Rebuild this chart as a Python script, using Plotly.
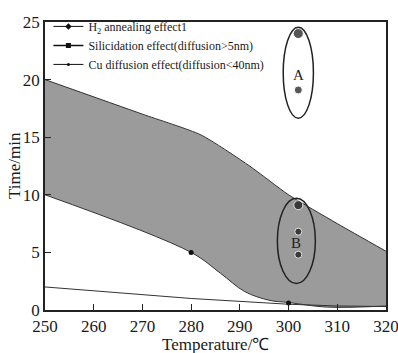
import plotly.graph_objects as go

# Band boundaries
upper_x = [250, 270, 282, 292, 300, 310, 320]
upper_y = [20.0, 17.0, 15.2, 12.5, 10.0, 7.5, 5.1]
lower_x = [250, 280, 286, 291, 296, 300, 308, 320]
lower_y = [10.0, 5.0, 3.2, 1.6, 0.85, 0.65, 0.25, 0.35]
# Cu diffusion line
cu_x = [250, 280, 300, 310, 320]
cu_y = [2.0, 1.0, 0.5, 0.35, 0.3]
# H2 annealing marker points
h2_x = [280, 300]
h2_y = [5.0, 0.6]
# Experimental dots
a_x = [302, 302]
a_y = [24.0, 19.1]
b_x = [302, 302, 302]
b_y = [9.1, 6.8, 4.8]
# Ellipses: center x, center y, half-width, half-height, label
ell_cx = [302.0, 301.6]
ell_cy = [20.6, 6.0]
ell_rx = [3.1, 3.9]
ell_ry = [3.95, 3.7]
ell_label = ["A", "B"]

x_title = "Temperature/℃"
y_title = "Time/min"

serif = "Liberation Serif"
ink = "#1a1a1a"
fig = go.Figure()

fig.add_trace(go.Scatter(x=lower_x, y=lower_y, mode="lines", line_shape="spline",
                         line=dict(color="#333", width=1), showlegend=False))
fig.add_trace(go.Scatter(x=upper_x, y=upper_y, mode="lines", fill="tonexty",
                         line_shape="spline", line_smoothing=0.6,
                         fillcolor="rgb(155,155,155)",
                         line=dict(color="#333", width=1), showlegend=False))
fig.add_trace(go.Scatter(x=cu_x, y=cu_y, mode="lines",
                         line=dict(color="#333", width=1), showlegend=False))
fig.add_trace(go.Scatter(x=h2_x, y=h2_y, mode="markers",
                         marker=dict(color="#111", size=5), showlegend=False))
fig.add_trace(go.Scatter(x=a_x + b_x, y=a_y + b_y, mode="markers",
                         marker=dict(color="#111", size=[10, 8, 9, 7, 7]),
                         showlegend=False))

# legend entries
fig.add_trace(go.Scatter(x=[None], y=[None], mode="lines+markers",
                         name="H<sub>2</sub> annealing effect1",
                         line=dict(color="#111", width=1),
                         marker=dict(symbol="diamond", size=5, color="#111")))
fig.add_trace(go.Scatter(x=[None], y=[None], mode="lines+markers",
                         name="Silicidation effect(diffusion>5nm)",
                         line=dict(color="#111", width=1.5),
                         marker=dict(symbol="square", size=5, color="#111")))
fig.add_trace(go.Scatter(x=[None], y=[None], mode="lines+markers",
                         name="Cu diffusion effect(diffusion<40nm)",
                         line=dict(color="#111", width=1),
                         marker=dict(symbol="circle", size=3, color="#111")))

shapes = []
annotations = []
for cx, cy, rx, ry, lab in zip(ell_cx, ell_cy, ell_rx, ell_ry, ell_label):
    shapes.append(dict(type="circle", xref="x", yref="y",
                       x0=cx - rx, x1=cx + rx, y0=cy - ry, y1=cy + ry,
                       line=dict(color="#222", width=1.5)))
    annotations.append(dict(x=cx, y=cy - 0.2, text=lab, showarrow=False,
                            font=dict(family=serif, size=15, color="#222")))

annotations.append(dict(x=0.5, y=0, xref="paper", yref="paper", yshift=-34,
                        xanchor="center", yanchor="middle", showarrow=False,
                        text=x_title, font=dict(family=serif, size=17, color=ink)))
annotations.append(dict(x=0, y=0.5, xref="paper", yref="paper", xshift=-31,
                        xanchor="center", yanchor="middle", showarrow=False,
                        textangle=-90,
                        text=y_title, font=dict(family=serif, size=17, color=ink)))

fig.update_layout(
    width=398, height=353,
    margin=dict(l=45, r=12, t=14, b=43),
    plot_bgcolor="white", paper_bgcolor="white",
    font=dict(family=serif, size=17, color=ink),
    shapes=shapes, annotations=annotations,
    legend=dict(x=0.01, y=1.035, xanchor="left", yanchor="top",
                traceorder="normal",
                bgcolor="rgba(0,0,0,0)", font=dict(family=serif, size=12, color=ink),
                itemwidth=30, tracegroupgap=0),
)
fig.update_xaxes(range=[250, 320], dtick=10, tick0=250, showline=True, mirror=True,
                 linecolor="#222", linewidth=1.5, ticks="inside", ticklen=6,
                 tickcolor="#222", showgrid=False, zeroline=False, automargin=False,
                 ticklabeloverflow="allow",
                 tickfont=dict(family=serif, size=17, color=ink))
fig.update_yaxes(range=[0, 25], dtick=5, showline=True, mirror=True,
                 linecolor="#222", linewidth=1.5, ticks="inside", ticklen=6,
                 tickcolor="#222", showgrid=False, zeroline=False, automargin=False,
                 ticklabeloverflow="allow",
                 tickfont=dict(family=serif, size=17, color=ink))

fig.write_html("out.html", config={"displayModeBar": False},
               post_script="document.body.style.margin='0';")
